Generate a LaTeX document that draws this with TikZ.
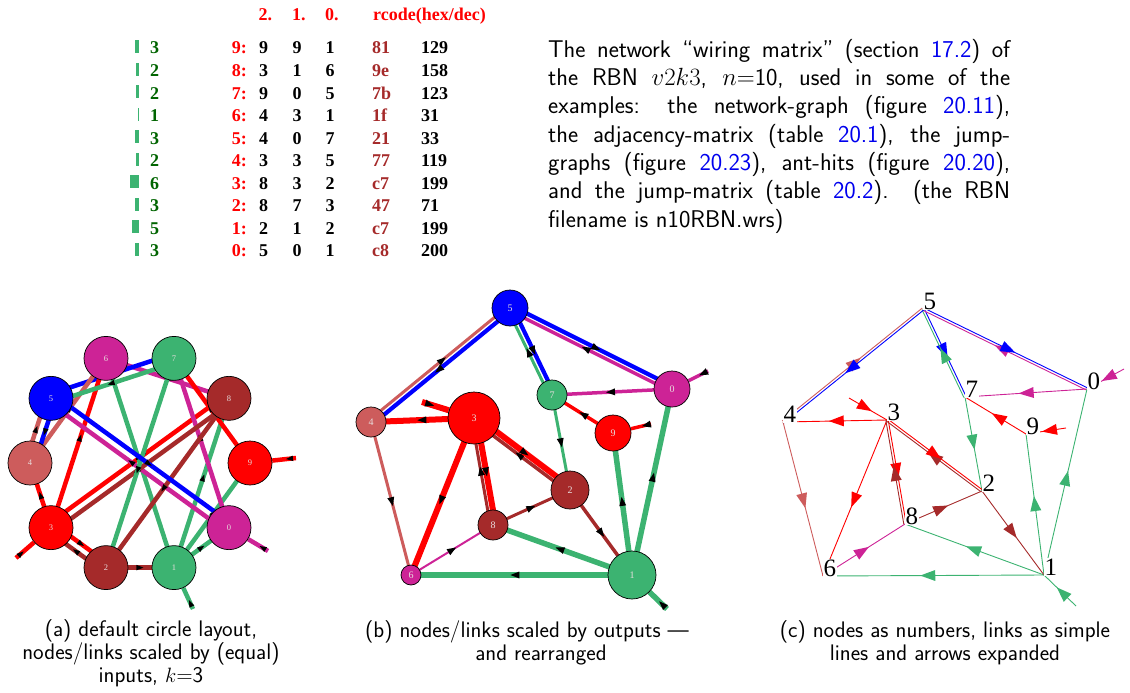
\documentclass[tikz,border=0pt]{standalone}
\usepackage{fontspec}
\newfontfamily\timesfont{Liberation Serif}
\usetikzlibrary{calc,arrows.meta,decorations.markings,backgrounds}

% node colours, 0..9
\definecolor{col0}{RGB}{205,35,150}
\definecolor{col1}{RGB}{60,179,113}
\definecolor{col2}{RGB}{165,42,42}
\definecolor{col3}{RGB}{255,0,0}
\definecolor{col4}{RGB}{205,92,92}
\definecolor{col5}{RGB}{0,0,255}
\colorlet{col6}{col0}
\colorlet{col7}{col1}
\colorlet{col8}{col2}
\colorlet{col9}{col3}
\definecolor{darkgreen}{RGB}{0,100,0}
\definecolor{linkblue}{RGB}{0,0,238}
\definecolor{nodetext}{RGB}{232,222,222}

% wiring: source/target/offset (1 = there is a link back as well)
\newcommand\rbnlinks{1/9/0, 3/8/1, 1/8/0, 6/8/0, 9/7/0, 0/7/0, 5/7/1, 4/6/0, 3/6/0, 1/6/0,
  4/5/1, 0/5/1, 7/5/1, 3/4/0, 5/4/1, 8/3/1, 2/3/1, 8/2/0, 7/2/0, 3/2/1, 2/1/0, 5/0/1, 1/0/0}

\begin{document}
\begin{tikzpicture}[x=1pt, y=1pt,
  % table text
  cell/.style={inner sep=0pt, font=\timesfont\bfseries\fontsize{18}{20}\selectfont},
  % circles of panels (a) and (b)
  nodeA/.style={circle, draw=black, line width=0.7pt, minimum size=44pt, inner sep=0pt,
                text=nodetext, font=\timesfont\fontsize{8.5}{8.5}\selectfont},
  nodeB/.style={circle, draw=black, line width=0.7pt, inner sep=0pt,
                text=nodetext, font=\timesfont\fontsize{10}{10}\selectfont},
  % numbers of panel (c)
  lblC/.style={anchor=base west, fill=white, inner sep=0.5pt,
               font=\timesfont\fontsize{25}{25}\selectfont},
  lnkA/.style={line width=4.5pt},
  lnkC/.style={line width=0.9pt},
  arrA/.style={postaction={decorate, decoration={markings, mark=at position #1 with
               {\arrow{Triangle[length=7pt,width=5.5pt,line width=0pt,color=black]}}}}},
  arrA/.default=0.55,
  arrB/.style={postaction={decorate, decoration={markings, mark=at position #1 with
               {\arrow{Triangle[length=9pt,width=7pt,line width=0pt,color=black]}}}}},
  arrB/.default=0.55,
  arrC/.style={postaction={decorate, decoration={markings, mark=at position #1 with
               {\arrow{Triangle[length=15pt,width=11pt,line width=0pt]}}}}},
  arrC/.default=0.56,
  descr/.style={anchor=north west, text width=462pt, align=justify, inner sep=0pt,
                font=\sffamily\fontsize{24.2}{28.3}\selectfont},
  capt/.style={anchor=north, align=center, inner sep=0pt,
               font=\sffamily\fontsize{22.5}{23.3}\selectfont}
]
  \useasboundingbox (0,0) rectangle (1130,-693);

  % --- wiring table ---
  \node[cell, text=red, anchor=base west] (hd2) at (258.5,-21) {2.};
  \node[cell, text=red, anchor=base west] (hd1) at (292,-21) {1.};
  \node[cell, text=red, anchor=base west] (hd0) at (325,-21) {0.};
  \node[cell, text=red, anchor=base west] (hdr) at (373,-21) {rcode(hex/dec)};
  \foreach \row/\nd/\ia/\ib/\ic/\hx/\dc/\cnt in {0/9/9/9/1/81/129/3, 1/8/3/1/6/9e/158/2,
      2/7/9/0/5/7b/123/2, 3/6/4/3/1/1f/31/1, 4/5/4/0/7/21/33/3, 5/4/3/3/5/77/119/2,
      6/3/8/3/2/c7/199/6, 7/2/8/7/3/47/71/3, 8/1/2/1/2/c7/199/5, 9/0/5/0/1/c8/200/3} {
    \pgfmathsetmacro\yb{-54-22.55*\row}
    \fill[col1] (139-1.5*\cnt,\yb+1) rectangle (139,\yb+14);
    \node[cell, text=darkgreen, anchor=base west] (cnt\nd) at (150,\yb) {\cnt};
    \node[cell, text=red, anchor=base east] (lab\nd) at (247,\yb) {\nd:};
    \node[cell, anchor=base west] (inA\nd) at (259,\yb) {\ia};
    \node[cell, anchor=base west] (inB\nd) at (292.5,\yb) {\ib};
    \node[cell, anchor=base west] (inC\nd) at (325.5,\yb) {\ic};
    \node[cell, text=col2, anchor=base west] (hex\nd) at (372,\yb) {\hx};
    \node[cell, anchor=base west] (dec\nd) at (421,\yb) {\dc};
  }

  % --- description ---
  \node[descr] (descr) at (548,-39) {The network ``wiring matrix'' (section
    \textcolor{linkblue}{17.2}) of\linebreak the RBN $v2k3$, $n{=}$10, used in some of
    the\linebreak examples: the network-graph (figure \textcolor{linkblue}{20.11}),\linebreak
    the adjacency-matrix (table \textcolor{linkblue}{20.1}), the jump-\linebreak graphs
    (figure \textcolor{linkblue}{20.23}), ant-hits (figure \textcolor{linkblue}{20.20}),\linebreak
    and the jump-matrix (table \textcolor{linkblue}{20.2}). (the RBN\linebreak
    filename is n10RBN.wrs)};

  % --- (a) circle layout ---
  \foreach \n in {0,...,9}
    \node[nodeA, fill=col\n] (a\n) at ($(140,-463)+({(9-\n)*36}:110)$) {\n};
  \coordinate (sa9) at (296,-458);
  \coordinate (sa0) at (268,-551);
  \coordinate (sa3) at (16,-558);
  \coordinate (sa1) at (193,-609);

  % --- (b) rearranged, sized by outputs ---
  \foreach \n/\x/\y/\rad in {5/510/308/18, 0/672/389/18, 7/552/395/15, 3/474/418/26,
      9/613/433/18, 4/371/422/15, 2/570/490/19, 8/493/525/15, 6/411/575/10, 1/632/575/24}
    \node[nodeB, fill=col\n, minimum size=2*\rad] (b\n) at (\x,-\y) {\n};
  \coordinate (sb3) at (422,-402);
  \coordinate (sb9) at (651,-424);
  \coordinate (sb0) at (708,-371);
  \coordinate (sb1) at (667,-609);

  % --- (c) numbers only ---
  \foreach \n/\x/\y in {5/923/309, 0/1087/389, 7/965/397, 9/1026/434, 3/887/420,
      4/783/422, 2/982/491, 8/905/524, 6/823/576, 1/1044/575}
    \node[lblC] (c\n) at (\x,-\y) {\n};
  \coordinate (sc3) at (849,-398);
  \coordinate (sc9) at (1066,-428);
  \coordinate (sc0) at (1124,-369);
  \coordinate (sc1) at (1076,-606);

  % links go under the nodes
  \begin{scope}[on background layer]
    \foreach \src/\dst/\off in \rbnlinks {
      \draw[lnkA, draw=col\src, arrA] ($(a\src)!\off*4.5pt!90:(a\dst)$) -- ($(a\dst)!\off*4.5pt!-90:(a\src)$);
      \pgfmathsetmacro\bw{{3.5,5.5,3.5,6,3,4.2,2,3,3,3.5}[\src]}
      \draw[line width=\bw pt, draw=col\src, arrB] ($(b\src)!\off*2.6pt!90:(b\dst)$) -- ($(b\dst)!\off*2.6pt!-90:(b\src)$);
      \draw[lnkC, draw=col\src, arrC] ($(c\src.base west)!\off*1.2pt!90:(c\dst.base west)$)
        -- ($(c\dst.base west)!\off*1.2pt!-90:(c\src.base west)$);
    }
    % self links
    \foreach \n in {9,0,3,1} {
      \draw[lnkA, draw=col\n, arrA=0.42] (sa\n) -- (a\n);
      \pgfmathsetmacro\bw{{3.5,5.5,3.5,6,3,4.2,2,3,3,3.5}[\n]}
      \draw[line width=\bw pt, draw=col\n, arrB=0.45] (sb\n) -- (b\n);
      \draw[lnkC, draw=col\n, arrC=0.6] (sc\n) -- (c\n.base west);
    }
  \end{scope}

  % --- captions ---
  \node[capt] (capa) at (151,-619) {(a) default circle layout,\\nodes/links scaled by (equal)\\inputs, $k$=3};
  \node[capt] (capb) at (527,-620) {(b) nodes/links scaled by outputs ---\\\hspace*{28pt}and rearranged};
  \node[capt] (capc) at (945,-620) {(c) nodes as numbers, links as simple\\lines and arrows expanded};
\end{tikzpicture}
\end{document}
